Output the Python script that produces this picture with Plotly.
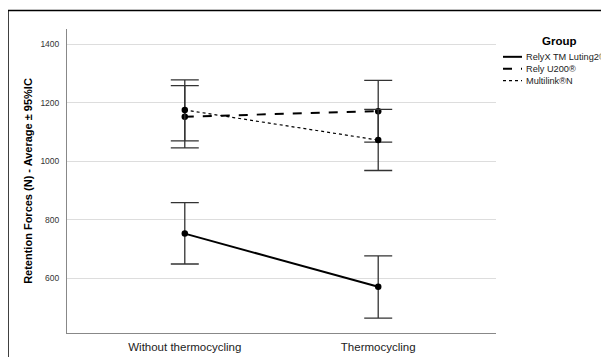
import plotly.graph_objects as go

categories = ["Without thermocycling", "Thermocycling"]
groups = ["RelyX TM Luting2®", "Rely U200®", "Multilink®N"]
means = {
    "RelyX TM Luting2®": [753, 571],
    "Rely U200®": [1153, 1172],
    "Multilink®N": [1176, 1073],
}
ci_low = {
    "RelyX TM Luting2®": [649, 464],
    "Rely U200®": [1046, 1066],
    "Multilink®N": [1070, 969],
}
ci_high = {
    "RelyX TM Luting2®": [859, 677],
    "Rely U200®": [1259, 1277],
    "Multilink®N": [1279, 1178],
}
y_ticks = [600, 800, 1000, 1200, 1400]

styles = {
    "RelyX TM Luting2®": dict(dash="solid", width=2),
    "Rely U200®": dict(dash="dash", width=2),
    "Multilink®N": dict(dash="dot", width=1.2),
}

FONT = "Arial, Liberation Sans, sans-serif"
OFF = 8  # page body margin
W, H = 609, 357
ML, MT = 59, 21
PW, PH = 429, 306
MR = W - ML - PW
MB = H - MT - PH

def px_x(p):
    return (p - OFF - ML) / PW

def px_y(p):
    return (MT + PH - (p - OFF)) / PH

fig = go.Figure()
xs = list(range(len(categories)))
for g in groups:
    m = means[g]
    fig.add_trace(go.Scatter(
        x=xs, y=m, mode="lines+markers", name=g,
        line=dict(color="black", **styles[g]),
        marker=dict(color="black", size=6.5),
        error_y=dict(
            type="data", symmetric=False,
            array=[h - v for h, v in zip(ci_high[g], m)],
            arrayminus=[v - l for l, v in zip(ci_low[g], m)],
            color="#333333", thickness=1.3, width=14,
        ),
        showlegend=False,
    ))

shapes = []
annotations = []
# outer frame (top and left visible)
shapes.append(dict(type="line", xref="paper", yref="paper",
                   x0=px_x(8), x1=px_x(W + 20), y0=px_y(10.5), y1=px_y(10.5),
                   line=dict(color="black", width=1.5)))
shapes.append(dict(type="line", xref="paper", yref="paper",
                   x0=px_x(8), x1=px_x(8), y0=px_y(10.5), y1=px_y(H + 20),
                   line=dict(color="black", width=1.5)))

# manual legend
annotations.append(dict(text="<b>Group</b>", xref="paper", yref="paper",
                        x=px_x(559), y=px_y(41), showarrow=False,
                        xanchor="center", yanchor="middle",
                        font=dict(family=FONT, size=11.5, color="black")))
leg_y = [57, 69, 81]
for g, yy in zip(groups, leg_y):
    st = styles[g]
    shapes.append(dict(type="line", xref="paper", yref="paper",
                       x0=px_x(503), x1=px_x(522), y0=px_y(yy), y1=px_y(yy),
                       line=dict(color="black", dash=st["dash"], width=st["width"])))
    annotations.append(dict(text=g, xref="paper", yref="paper",
                            x=px_x(524), y=px_y(yy), showarrow=False,
                            xanchor="left", yanchor="middle",
                            font=dict(family=FONT, size=9.2, color="#222222")))

fig.update_layout(
    width=W, height=H,
    margin=dict(l=ML, r=MR, t=MT, b=MB, pad=0),
    paper_bgcolor="white", plot_bgcolor="white",
    font=dict(family=FONT, color="#222222"),
    shapes=shapes, annotations=annotations,
    xaxis=dict(
        tickvals=xs, ticktext=categories, range=[-0.609, 1.609],
        showgrid=False, zeroline=False, showline=True, linecolor="#888888",
        linewidth=1, ticks="", tickfont=dict(family=FONT, size=11.5, color="#222222"),
        ticklabelstandoff=3,
    ),
    yaxis=dict(
        tickvals=y_ticks, range=[413, 1453],
        showgrid=True, gridcolor="#dddddd", gridwidth=1, zeroline=False,
        showline=True, linecolor="#888888", linewidth=1, ticks="",
        tickfont=dict(family=FONT, size=8.5, color="#333333"),
        ticklabelstandoff=5,
        title=dict(text="<b>Retention Forces (N) - Average ± 95%IC</b>",
                   font=dict(family=FONT, size=11, color="black"), standoff=5),
    ),
)

fig.write_html("out.html")
